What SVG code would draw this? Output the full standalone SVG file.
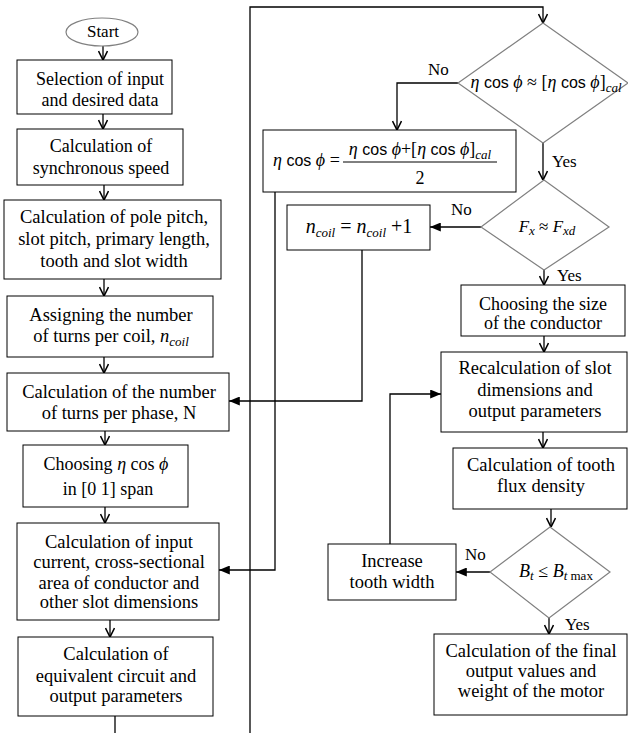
<svg xmlns="http://www.w3.org/2000/svg" width="628" height="733" viewBox="0 0 628 733">
<style>
.i{font-style:italic}
.sub{font-style:italic;font-size:13px}
.box{fill:#fff;stroke:#000;stroke-width:1}
.dia{fill:#fff;stroke:#808080;stroke-width:1.2}
.c{fill:none;stroke:#000;stroke-width:1.3}
</style>
<defs>
<marker id="open" viewBox="0 0 10 10" refX="10" refY="5" markerWidth="10" markerHeight="10" markerUnits="userSpaceOnUse" orient="auto">
<path d="M1,0.5 L10,5 L1,9.5" fill="none" stroke="#000" stroke-width="1.6"/>
</marker>
<marker id="fill" viewBox="0 0 12 10" refX="12" refY="5" markerWidth="12" markerHeight="9" markerUnits="userSpaceOnUse" orient="auto">
<path d="M0,0 L12,5 L0,10 z" fill="#000"/>
</marker>
</defs>
<rect width="628" height="733" fill="#fff"/>

<g id="connectors">
<line class="c" x1="103" y1="46" x2="103" y2="60" marker-end="url(#open)"/>
<line class="c" x1="103" y1="114" x2="103" y2="129" marker-end="url(#open)"/>
<line class="c" x1="104" y1="185" x2="104" y2="200" marker-end="url(#open)"/>
<line class="c" x1="104" y1="279" x2="104" y2="296" marker-end="url(#open)"/>
<line class="c" x1="104" y1="357" x2="104" y2="373" marker-end="url(#open)"/>
<line class="c" x1="105" y1="431" x2="105" y2="445" marker-end="url(#open)"/>
<line class="c" x1="105" y1="507" x2="105" y2="523" marker-end="url(#open)"/>
<line class="c" x1="110" y1="620" x2="110" y2="637" marker-end="url(#open)"/>
<line class="c" x1="115" y1="716" x2="115" y2="733"/>
<polyline class="c" points="250,733 250,7 543,7 543,23" marker-end="url(#open)"/>
<polyline class="c" points="458,83 397,83 397,130" marker-end="url(#open)"/>
<line class="c" x1="543" y1="143" x2="543" y2="180" marker-end="url(#open)"/>
<polyline class="c" points="275,192 275,570 219,570" marker-end="url(#fill)"/>
<line class="c" x1="481" y1="227" x2="430" y2="227" marker-end="url(#fill)"/>
<polyline class="c" points="362,250 362,401 229,401" marker-end="url(#fill)"/>
<line class="c" x1="544" y1="270" x2="544" y2="285" marker-end="url(#open)"/>
<line class="c" x1="544" y1="336" x2="544" y2="352" marker-end="url(#open)"/>
<line class="c" x1="543" y1="432" x2="543" y2="448" marker-end="url(#open)"/>
<line class="c" x1="551" y1="509" x2="551" y2="527" marker-end="url(#open)"/>
<line class="c" x1="490" y1="572" x2="456" y2="572" marker-end="url(#fill)"/>
<polyline class="c" points="390,544 390,394 441,394" marker-end="url(#fill)"/>
<line class="c" x1="549" y1="618" x2="549" y2="634" marker-end="url(#open)"/>
</g>

<g id="start">
<ellipse cx="102" cy="32" rx="36" ry="14" fill="#fff" stroke="#808080" stroke-width="1.2"/>
<text x="103" y="37" text-anchor="middle" font-family="Liberation Serif" font-size="17">Start</text>
</g>

<g id="n1">
<rect class="box" x="17" y="60" width="155" height="54"/>
<text x="100" y="85" text-anchor="middle" font-family="Liberation Serif" font-size="18">Selection of input</text>
<text x="100" y="106" text-anchor="middle" font-family="Liberation Serif" font-size="18">and desired data</text>
</g>
<g id="n2">
<rect class="box" x="17" y="129" width="166" height="56"/>
<text x="101" y="152" text-anchor="middle" font-family="Liberation Serif" font-size="18">Calculation of</text>
<text x="101" y="174" text-anchor="middle" font-family="Liberation Serif" font-size="18">synchronous speed</text>
</g>
<g id="n3">
<rect class="box" x="4" y="200" width="217" height="79"/>
<text x="114" y="223" text-anchor="middle" font-family="Liberation Serif" font-size="18.5">Calculation of pole pitch,</text>
<text x="114" y="245" text-anchor="middle" font-family="Liberation Serif" font-size="18.5">slot pitch, primary length,</text>
<text x="114" y="267" text-anchor="middle" font-family="Liberation Serif" font-size="18.5">tooth and slot width</text>
</g>
<g id="n4">
<rect class="box" x="7" y="296" width="206" height="61"/>
<text x="111" y="321" text-anchor="middle" font-family="Liberation Serif" font-size="18.5">Assigning the number</text>
<text x="111" y="342" text-anchor="middle" font-family="Liberation Serif" font-size="18.5">of turns per coil,  <tspan class="i">n</tspan><tspan class="sub" dy="4">coil</tspan></text>
</g>
<g id="n5">
<rect class="box" x="7" y="373" width="222" height="58"/>
<text x="119" y="398" text-anchor="middle" font-family="Liberation Serif" font-size="18.5">Calculation of the number</text>
<text x="119" y="419" text-anchor="middle" font-family="Liberation Serif" font-size="18.5">of turns per phase, N</text>
</g>
<g id="n6">
<rect class="box" x="23" y="445" width="165" height="62"/>
<text x="106" y="470" text-anchor="middle" font-family="Liberation Serif" font-size="18">Choosing  <tspan class="i">η</tspan> cos <tspan class="i">ϕ</tspan></text>
<text x="108" y="495" text-anchor="middle" font-family="Liberation Serif" font-size="18">in [0 1] span</text>
</g>
<g id="n7">
<rect class="box" x="17" y="523" width="202" height="97"/>
<text x="119" y="548" text-anchor="middle" font-family="Liberation Serif" font-size="18.5">Calculation of input</text>
<text x="119" y="568" text-anchor="middle" font-family="Liberation Serif" font-size="18.5">current, cross-sectional</text>
<text x="119" y="589" text-anchor="middle" font-family="Liberation Serif" font-size="18.5">area of conductor and</text>
<text x="119" y="608" text-anchor="middle" font-family="Liberation Serif" font-size="18.5">other slot dimensions</text>
</g>
<g id="n8">
<rect class="box" x="18" y="637" width="195" height="79"/>
<text x="116" y="660" text-anchor="middle" font-family="Liberation Serif" font-size="18.5">Calculation of</text>
<text x="116" y="682" text-anchor="middle" font-family="Liberation Serif" font-size="18.5">equivalent circuit and</text>
<text x="116" y="702" text-anchor="middle" font-family="Liberation Serif" font-size="18.5">output parameters</text>
</g>

<g id="d1">
<polygon class="dia" points="543,23 628,83 543,143 458,83"/>
<text x="546" y="88" text-anchor="middle" font-family="Liberation Serif" font-size="18"><tspan class="i">η</tspan> <tspan font-family="Liberation Sans" font-size="16">cos</tspan> <tspan class="i">ϕ</tspan> ≈ [<tspan class="i">η</tspan> <tspan font-family="Liberation Sans" font-size="16">cos</tspan> <tspan class="i">ϕ</tspan>]<tspan class="sub" dy="4">cal</tspan></text>
</g>
<text x="428" y="75" font-family="Liberation Serif" font-size="17">No</text>
<text x="552" y="167" font-family="Liberation Serif" font-size="17">Yes</text>

<g id="f1">
<rect class="box" x="263" y="130" width="253" height="62"/>
<text x="273" y="166" font-family="Liberation Serif" font-size="18"><tspan class="i">η</tspan> <tspan font-family="Liberation Sans" font-size="16">cos</tspan> <tspan class="i">ϕ</tspan> =</text>
<text x="420" y="155" text-anchor="middle" font-family="Liberation Serif" font-size="18"><tspan class="i">η</tspan> <tspan font-family="Liberation Sans" font-size="16">cos</tspan> <tspan class="i">ϕ</tspan>+[<tspan class="i">η</tspan> <tspan font-family="Liberation Sans" font-size="16">cos</tspan> <tspan class="i">ϕ</tspan>]<tspan class="sub" dy="4">cal</tspan></text>
<line x1="343" y1="162" x2="497" y2="162" stroke="#000" stroke-width="1"/>
<text x="420" y="184" text-anchor="middle" font-family="Liberation Serif" font-size="18">2</text>
</g>

<g id="d2">
<polygon class="dia" points="544,180 609,227 544,270 481,227"/>
<text x="547" y="232" text-anchor="middle" font-family="Liberation Serif" font-size="17"><tspan class="i">F</tspan><tspan class="sub" dy="3">x</tspan><tspan dy="-3"> ≈ </tspan><tspan class="i">F</tspan><tspan class="sub" dy="3">xd</tspan></text>
</g>
<text x="451" y="215" font-family="Liberation Serif" font-size="17">No</text>
<text x="557" y="281" font-family="Liberation Serif" font-size="17">Yes</text>

<g id="f2">
<rect class="box" x="287" y="205" width="143" height="45"/>
<text x="359" y="233" text-anchor="middle" font-family="Liberation Serif" font-size="20"><tspan class="i">n</tspan><tspan class="sub" dy="4" font-size="15">coil</tspan><tspan dy="-4"> = </tspan><tspan class="i">n</tspan><tspan class="sub" dy="4" font-size="15">coil</tspan><tspan dy="-4"> +1</tspan></text>
</g>

<g id="n9">
<rect class="box" x="461" y="285" width="164" height="51"/>
<text x="543" y="310" text-anchor="middle" font-family="Liberation Serif" font-size="18">Choosing the size</text>
<text x="543" y="329" text-anchor="middle" font-family="Liberation Serif" font-size="18">of the conductor</text>
</g>
<g id="n10">
<rect class="box" x="441" y="352" width="186" height="80"/>
<text x="535" y="374" text-anchor="middle" font-family="Liberation Serif" font-size="18.5">Recalculation of slot</text>
<text x="535" y="396" text-anchor="middle" font-family="Liberation Serif" font-size="18.5">dimensions and</text>
<text x="535" y="417" text-anchor="middle" font-family="Liberation Serif" font-size="18.5">output parameters</text>
</g>
<g id="n11">
<rect class="box" x="453" y="448" width="174" height="61"/>
<text x="541" y="471" text-anchor="middle" font-family="Liberation Serif" font-size="18.5">Calculation of tooth</text>
<text x="541" y="492" text-anchor="middle" font-family="Liberation Serif" font-size="18.5">flux density</text>
</g>

<g id="d3">
<polygon class="dia" points="550,527 610,572 549,618 490,572"/>
<text x="556" y="577" text-anchor="middle" font-family="Liberation Serif" font-size="18"><tspan class="i">B</tspan><tspan class="sub" dy="3">t</tspan><tspan dy="-3">  ≤ </tspan><tspan class="i">B</tspan><tspan class="sub" dy="3">t</tspan><tspan font-size="13"> max</tspan></text>
</g>
<text x="465" y="560" font-family="Liberation Serif" font-size="17">No</text>
<text x="565" y="630" font-family="Liberation Serif" font-size="17">Yes</text>

<g id="n12">
<rect class="box" x="328" y="544" width="128" height="56"/>
<text x="392" y="567" text-anchor="middle" font-family="Liberation Serif" font-size="18.5">Increase</text>
<text x="392" y="588" text-anchor="middle" font-family="Liberation Serif" font-size="18.5">tooth width</text>
</g>
<g id="n13">
<rect class="box" x="434" y="634" width="193" height="81"/>
<text x="531" y="657" text-anchor="middle" font-family="Liberation Serif" font-size="18.5">Calculation of the final</text>
<text x="531" y="677" text-anchor="middle" font-family="Liberation Serif" font-size="18.5">output values and</text>
<text x="531" y="697" text-anchor="middle" font-family="Liberation Serif" font-size="18.5">weight of the motor</text>
</g>
</svg>
